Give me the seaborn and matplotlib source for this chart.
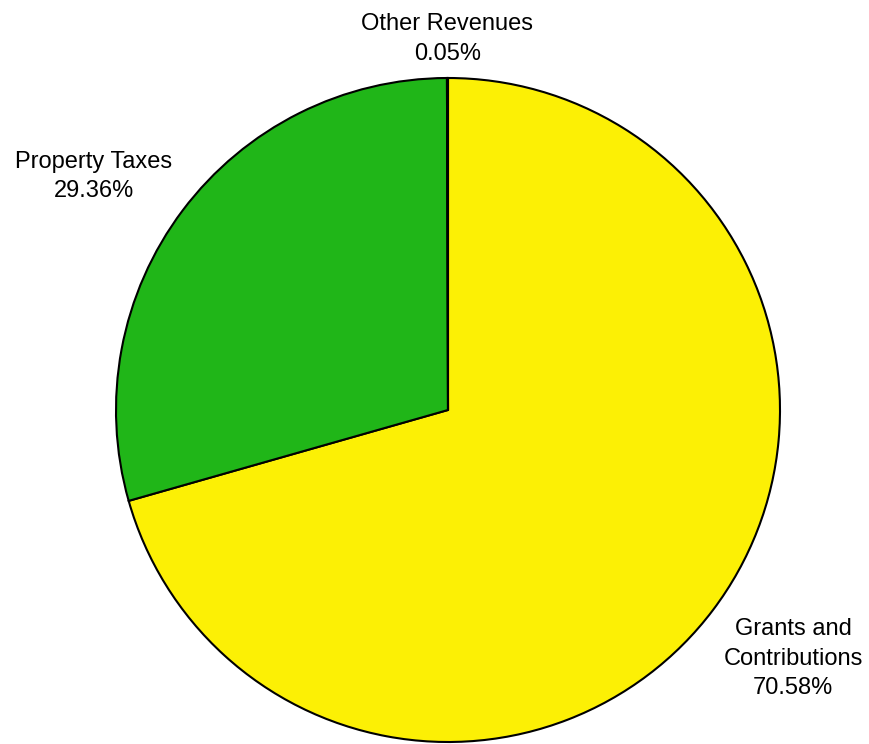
import numpy as np
import matplotlib
matplotlib.use("Agg")
import matplotlib.pyplot as plt
import seaborn as sns

categories = ["Grants and\nContributions", "Property Taxes", "Other Revenues"]
values = [70.58, 29.36, 0.05]
colors = ["#FCF005", "#20B618", "#3366CC"]

sns.set_theme(style="white")
plt.rcParams['font.family'] = ['Liberation Sans', 'DejaVu Sans']

fig = plt.figure(figsize=(8.7, 7.44), dpi=100)
ax = fig.add_axes([0, 0, 1, 1])
wedges, _ = ax.pie(values, colors=colors, startangle=90, counterclock=False,
                   radius=1.0, center=(0, 0),
                   wedgeprops=dict(edgecolor="black", linewidth=1.5))

r = 1.04
for w, cat, v in zip(wedges, categories, values):
    ang = np.deg2rad((w.theta1 + w.theta2) / 2)
    x, y = r * np.cos(ang), r * np.sin(ang)
    if abs(np.cos(ang)) < 0.1:
        ha = "center"
    else:
        ha = "left" if x > 0 else "right"
    va = "bottom" if y > 0 else "top"
    ax.text(x, y, f"{cat}\n{v:.2f}%", ha=ha, va=va, multialignment="center",
            fontsize=17, color="black", linespacing=1.45)

ax.set_xlim(-448 / 332, (870 - 448) / 332)
ax.set_ylim(-(744 - 410) / 332, 410 / 332)
ax.axis("off")
fig.savefig("out.png", dpi=100, facecolor="white")
